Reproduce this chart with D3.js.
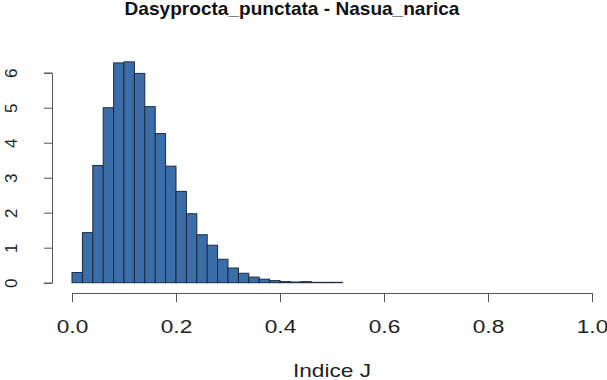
<!DOCTYPE html>
<html><head><meta charset="utf-8">
<script src="https://cdn.jsdelivr.net/npm/d3@7"></script>
<style>body{margin:0;background:#fff}svg{display:block}</style>
</head><body>
<svg id="c" width="607" height="380"></svg>
<script>
const title = "Dasyprocta_punctata - Nasua_narica";
const xLabel = "Indice J";
const binStart = 0, binWidth = 0.02;
const density = [0.29,1.43,3.35,5.0,6.28,6.31,5.98,5.03,4.26,3.33,2.61,1.97,1.37,1.07,0.67,0.42,0.27,0.16,0.10,0.06,0.03,0.02,0.03,0.01,0.01,0.01];
const xTicks = [0,0.2,0.4,0.6,0.8,1.0];
const yTicks = [0,1,2,3,4,5,6];

const svg = d3.select("#c");
const x = d3.scaleLinear().domain([0,1]).range([72,592]);
const y = d3.scaleLinear().domain([0,6]).range([282.7,72.7]);
const font = "'Liberation Sans', Arial, Helvetica, sans-serif";
const stretch = 1.26;

const bins = density.map((v,i)=>({x0: binStart+i*binWidth, x1: binStart+(i+1)*binWidth, v}));
svg.append("g").selectAll("rect").data(bins).join("rect")
  .attr("x", d=>x(d.x0)).attr("width", d=>x(d.x1)-x(d.x0))
  .attr("y", d=>y(d.v)).attr("height", d=>y(0)-y(d.v))
  .attr("fill","#3b6ea8").attr("stroke","#1c2b3f").attr("stroke-width",1);

const xa = svg.append("g").attr("transform","translate(0,293)")
  .call(d3.axisBottom(x).tickValues(xTicks).tickFormat(d3.format(".1f")).tickSizeOuter(0).tickSize(9));
xa.select(".domain").attr("stroke","#555");
xa.selectAll(".tick line").attr("stroke","#555");
xa.selectAll("text").attr("font-family",font).attr("font-size",18).attr("fill","#222")
  .attr("dy",null).attr("y",40).attr("transform",`scale(${stretch},1)`);

const ya = svg.append("g").attr("transform","translate(52,0)")
  .call(d3.axisLeft(y).tickValues(yTicks).tickFormat(d3.format("d")).tickSizeOuter(0).tickSize(8).tickPadding(0));
ya.select(".domain").attr("stroke","#555");
ya.selectAll(".tick line").attr("stroke","#555");
ya.selectAll("text").attr("font-family",font).attr("font-size",17).attr("fill","#222")
  .attr("text-anchor","middle").attr("dy",null).attr("x",null)
  .attr("transform","translate(-39,0) rotate(-90)").attr("dominant-baseline","middle");

svg.append("text").attr("transform","translate(292,15) scale(1.06,1)").attr("text-anchor","middle")
  .attr("font-family",font).attr("font-weight","bold").attr("font-size",18).attr("fill","#111").text(title);
svg.append("text").attr("transform",`translate(332,377) scale(${stretch},1)`).attr("text-anchor","middle")
  .attr("font-family",font).attr("font-size",18).attr("fill","#222").text(xLabel);
</script>
</body></html>
